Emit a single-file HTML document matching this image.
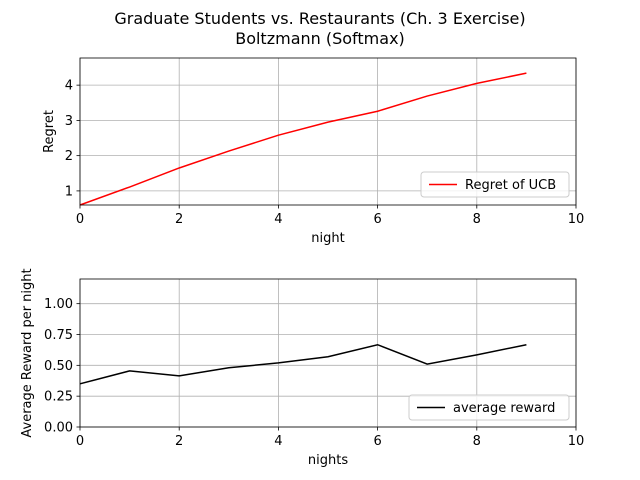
<!DOCTYPE html>
<html><head><meta charset="utf-8">
<style>
body{margin:0;background:#fff;}
svg{display:block;font-family:"DejaVu Sans","Liberation Sans",sans-serif;}
</style></head>
<body>
<svg id="c" width="640" height="480" viewBox="0 0 640 480">
<text x="320" y="24" text-anchor="middle" font-size="16">Graduate Students vs. Restaurants (Ch. 3 Exercise)</text>
<text x="320" y="44" text-anchor="middle" font-size="16">Boltzmann (Softmax)</text>
</svg>
<script>
const nights=[0,1,2,3,4,5,6,7,8,9];
const regret=[0.6,1.11,1.65,2.13,2.58,2.95,3.26,3.69,4.05,4.34];
const avgReward=[0.35,0.455,0.415,0.48,0.52,0.57,0.667,0.51,0.585,0.667];
const xTicks=[0,2,4,6,8,10];
const regretTicks=[1,2,3,4];
const rewardTicks=["0.00","0.25","0.50","0.75","1.00"];

const svg=document.getElementById('c');
const NS='http://www.w3.org/2000/svg';
function mk(t,a,p){const e=document.createElementNS(NS,t);for(const k in a)e.setAttribute(k,a[k]);(p||svg).appendChild(e);return e;}

function panel(o){
  const g=mk('g',{});
  
  
  const X=v=>o.x0+(v-0)/(10-0)*(o.x1-o.x0);
  const Y=v=>o.yb-(v-o.ymin)/(o.ymax-o.ymin)*(o.yb-o.yt);
  xTicks.forEach(v=>{
    mk('line',{x1:X(v),x2:X(v),y1:o.yt,y2:o.yb,stroke:'#b0b0b0','stroke-width':0.8},g);
    mk('line',{x1:X(v),x2:X(v),y1:o.yb,y2:o.yb+3.5,stroke:'#000','stroke-width':0.8},g);
    const t=mk('text',{x:X(v),y:o.yb+18,'text-anchor':'middle','font-size':13},g);t.textContent=v;
    
    
  });
  o.yticks.forEach(s=>{
    const v=parseFloat(s);
    mk('line',{x1:o.x0,x2:o.x1,y1:Y(v),y2:Y(v),stroke:'#b0b0b0','stroke-width':0.8},g);
    mk('line',{x1:o.x0-3.5,x2:o.x0,y1:Y(v),y2:Y(v),stroke:'#000','stroke-width':0.8},g);
    const t=mk('text',{x:o.x0-7,y:Y(v)+4.5,'text-anchor':'end','font-size':13},g);t.textContent=s;
    
    
  });
  const pts=nights.map((n,i)=>X(n)+','+Y(o.vals[i])).join(' ');
  const pl=mk('polyline',{points:pts,fill:'none',stroke:o.color,'stroke-width':1.5},g);
  
  
  mk('rect',{x:o.x0,y:o.yt,width:o.x1-o.x0,height:o.yb-o.yt,fill:'none',stroke:'#000','stroke-width':0.8},g);
  const xl=mk('text',{x:(o.x0+o.x1)/2,y:o.yb+37,'text-anchor':'middle','font-size':13},g);xl.textContent=o.xlabel;
  
  
  const yl=mk('text',{x:0,y:0,'text-anchor':'middle','font-size':13,transform:`translate(${o.ylx},${(o.yt+o.yb)/2}) rotate(-90)`},g);yl.textContent=o.ylabel;
  
  
  const lg=mk('g',{},g);
  
  
  mk('rect',{x:o.lx,y:o.ly,width:o.lw,height:25,rx:3,fill:'#fff','fill-opacity':0.8,stroke:'#ccc'},lg);
  mk('line',{x1:o.lx+8,x2:o.lx+36,y1:o.ly+12.5,y2:o.ly+12.5,stroke:o.color,'stroke-width':1.5},lg);
  const lt=mk('text',{x:o.lx+44,y:o.ly+17,'font-size':13},lg);lt.textContent=o.legend;
  
  
}
panel({name:'regret-panel',x0:80,x1:576,yt:58,yb:205,ymin:0.6,ymax:4.77,yticks:regretTicks.map(String),vals:regret,color:'#ff0000',lineName:'regret-line',xlabel:'night',ylabel:'Regret',ylx:53,lx:421,ly:172,lw:148,legend:'Regret of UCB'});
panel({name:'reward-panel',x0:80,x1:576,yt:279,yb:427,ymin:0,ymax:1.2,yticks:rewardTicks,vals:avgReward,color:'#000000',lineName:'average-reward-line',xlabel:'nights',ylabel:'Average Reward per night',ylx:31,lx:409,ly:395,lw:160,legend:'average reward'});
</script>
</body></html>
